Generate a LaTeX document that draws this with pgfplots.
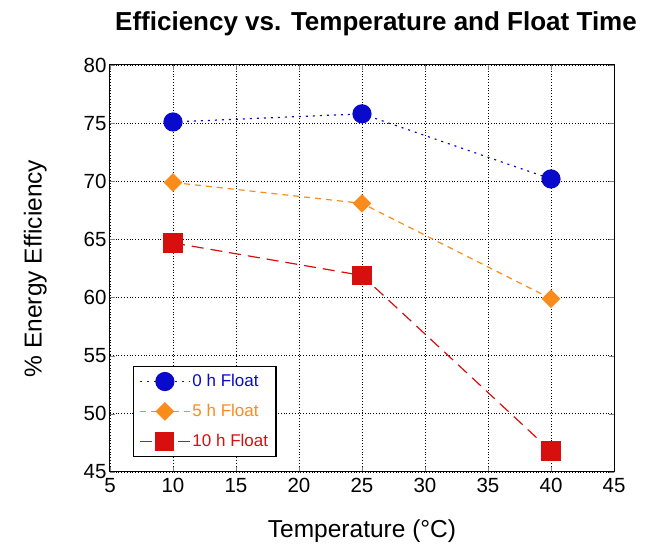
\documentclass[border=0pt]{standalone}
\usepackage{fontspec}
\setmainfont{Liberation Sans}
\usepackage{pgfplots}
\pgfplotsset{compat=1.18}
\definecolor{fblue}{RGB}{10,10,205}
\definecolor{forange}{RGB}{250,140,30}
\definecolor{fred}{RGB}{215,15,15}
\begin{document}
\begin{tikzpicture}
\begin{axis}[
    scale only axis,
    width=504pt, height=407pt,
    xmin=5, xmax=45, ymin=45, ymax=80,
    xtick={5,10,...,45}, ytick={45,50,...,80},
    /pgf/number format/assume math mode=true,
    tick label style={font=\fontsize{20.5}{22}\selectfont},
    xticklabel style={yshift=-3pt},
    tick align=inside, major tick length=5pt,
    grid=major,
    grid style={black, line width=0.8pt, dotted},
    axis line style={black, line width=1pt},
    title={\textbf{Efficiency vs. Temperature and Float Time}},
    title style={font=\fontsize{26}{29}\selectfont, yshift=20pt, xshift=14pt},
    xlabel={Temperature (°C)},
    ylabel={\% Energy Efficiency},
    xlabel style={font=\fontsize{24.5}{27}\selectfont, yshift=-20pt},
    ylabel style={font=\fontsize{24.5}{27}\selectfont, yshift=30pt},
    legend style={at={(rel axis cs:0.045,0.037)}, anchor=south west,
        draw=black, line width=1.2pt, font=\fontsize{17}{20}\selectfont,
        row sep=12pt, inner xsep=6pt, inner ysep=6pt, fill=white},
    legend cell align=left,
    legend image code/.code={%
        \draw[#1, mark=none] (0pt,0pt) -- (50pt,0pt);
        \draw[#1, only marks] plot coordinates {(25pt,0pt)};},
]
\addplot[fblue, dash pattern=on 2pt off 5pt, line width=1.2pt, mark=*, mark size=9pt,
    mark options={solid, fill=fblue}]
    coordinates {(10,75.1)(25,75.8)(40,70.2)};
\addlegendentry{\textcolor{fblue}{0 h Float}}
\addplot[forange, dash pattern=on 6pt off 5pt, line width=1.2pt, mark=square*, mark size=6pt,
    mark options={solid, fill=forange, rotate=45}]
    coordinates {(10,69.9)(25,68.1)(40,59.9)};
\addlegendentry{\textcolor{forange}{5 h Float}}
\addplot[fred, dash pattern=on 12pt off 7pt, line width=1.2pt, mark=square*, mark size=9pt,
    mark options={solid, fill=fred}]
    coordinates {(10,64.7)(25,61.9)(40,46.8)};
\addlegendentry{\textcolor{fred}{10 h Float}}
\end{axis}
\path (current axis.south west) ++(-110pt,-73pt) (current axis.north east) ++(36pt,65pt);
\end{tikzpicture}
\end{document}
